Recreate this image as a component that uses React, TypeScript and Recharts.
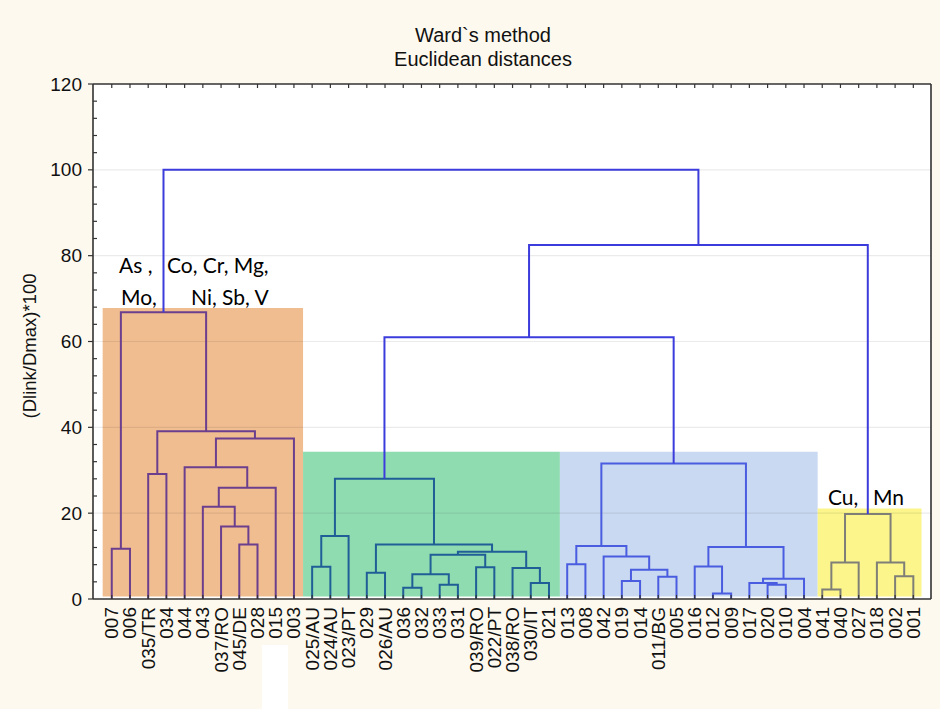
import React from "react";
import {
  ComposedChart,
  Line,
  XAxis,
  YAxis,
  CartesianGrid,
  ReferenceArea,
  ReferenceLine,
} from "recharts";

// ---- DATA ----
const leafLabels = [
  "007", "006", "035/TR", "034", "044", "043", "037/RO", "045/DE", "028", "015", "003",
  "025/AU", "024/AU", "023/PT", "029", "026/AU", "036", "032", "033", "031", "039/RO", "022/PT", "038/RO", "030/IT", "021",
  "013", "008", "042", "019", "014", "011/BG", "005", "016", "012", "009", "017", "020", "010", "004",
  "041", "040", "027", "018", "002", "001",
];

// [node id, left child, right child, linkage distance]
const orangeMerges: [string, string, string, number][] = [
  ["o1", "007", "006", 11.7],
  ["o2", "035/TR", "034", 29.1],
  ["o3", "045/DE", "028", 12.7],
  ["o4", "037/RO", "o3", 16.9],
  ["o5", "043", "o4", 21.5],
  ["o6", "o5", "015", 25.9],
  ["o7", "044", "o6", 30.7],
  ["o8", "o7", "003", 37.4],
  ["o9", "o2", "o8", 39.1],
  ["o10", "o1", "o9", 66.8],
];

const greenMerges: [string, string, string, number][] = [
  ["g1", "025/AU", "024/AU", 7.5],
  ["g2", "g1", "023/PT", 14.7],
  ["g3", "029", "026/AU", 6.1],
  ["g4", "036", "032", 2.6],
  ["g5", "033", "031", 3.3],
  ["g6", "g4", "g5", 5.75],
  ["g7", "039/RO", "022/PT", 7.4],
  ["g8", "g6", "g7", 10.3],
  ["g9", "030/IT", "021", 3.7],
  ["g10", "038/RO", "g9", 7.2],
  ["g11", "g8", "g10", 11.0],
  ["g12", "g3", "g11", 12.7],
  ["g13", "g2", "g12", 28.0],
];

const blueMerges: [string, string, string, number][] = [
  ["b1", "013", "008", 8.1],
  ["b2", "019", "014", 4.2],
  ["b3", "011/BG", "005", 5.2],
  ["b4", "b2", "b3", 6.8],
  ["b5", "042", "b4", 9.9],
  ["b6", "b1", "b5", 12.35],
  ["b7", "012", "009", 1.3],
  ["b8", "016", "b7", 7.6],
  ["b9", "020", "010", 3.3],
  ["b10", "017", "b9", 3.7],
  ["b11", "b10", "004", 4.7],
  ["b12", "b8", "b11", 12.1],
  ["b13", "b6", "b12", 31.6],
];

const yellowMerges: [string, string, string, number][] = [
  ["y1", "041", "040", 2.2],
  ["y2", "y1", "027", 8.5],
  ["y3", "002", "001", 5.3],
  ["y4", "018", "y3", 8.5],
  ["y5", "y2", "y4", 19.8],
];

const topMerges: [string, string, string, number][] = [
  ["t1", "g13", "b13", 61.0],
  ["t2", "t1", "y5", 82.5],
  ["t3", "o10", "t2", 100.0],
];

const yMajorTicks = [0, 20, 40, 60, 80, 100, 120];
const gridValues = [20, 40, 60, 80, 100];

// ---- STYLES ----
const lineColors: Record<string, string> = {
  o: "#6b3f8e",
  g: "#1f5e96",
  b: "#4a5ce0",
  y: "#7f7f78",
  t: "#3c3cdc",
};

const clusterBoxes = [
  { x1: -0.5, x2: 10.5, top: 67.8, fill: "#f0bd90" },
  { x1: 10.5, x2: 24.6, top: 34.3, fill: "#90dcb1" },
  { x1: 24.6, x2: 38.75, top: 34.3, fill: "#c9d9f1" },
  { x1: 38.75, x2: 44.45, top: 21.1, fill: "#fbf58c" },
];

const FONT = "'Liberation Sans', Arial, sans-serif";
const X_DOMAIN: [number, number] = [-1.03, 44.97];

// build node positions
type P = { x: number; h: number };
const pos: Record<string, P> = {};
leafLabels.forEach((l, i) => (pos[l] = { x: i, h: 0 }));
const allMerges = [...orangeMerges, ...greenMerges, ...blueMerges, ...yellowMerges, ...topMerges];
const segments = allMerges.map(([id, a, b, h]) => {
  const pa = pos[a];
  const pb = pos[b];
  pos[id] = { x: (pa.x + pb.x) / 2, h };
  return {
    id,
    color: lineColors[id[0]],
    data: [
      { x: pa.x, y: pa.h },
      { x: pa.x, y: h },
      { x: pb.x, y: h },
      { x: pb.x, y: pb.h },
    ],
  };
});

const leafTicks = leafLabels.map((_, i) => i);
const yMinorTicks = Array.from({ length: 31 }, (_, i) => i * 4);

const AX = "#333";

const LeftTick = (props: any) => {
  const { x, y, payload } = props;
  const ax = x + 11;
  const major = payload.value % 20 === 0;
  if (major) {
    return (
      <g>
        <line x1={ax - 5} x2={ax} y1={y} y2={y} stroke={AX} strokeWidth={1.2} />
        <text x={x} y={y} textAnchor="end" dominantBaseline="central" fontSize={19} fontFamily={FONT} fill="#111">
          {payload.value}
        </text>
      </g>
    );
  }
  return <line x1={ax} x2={ax + 4} y1={y} y2={y} stroke={AX} strokeWidth={1.2} />;
};

const RightTick = (props: any) => {
  const { x, y } = props;
  return <line x1={x - 4} x2={x} y1={y} y2={y} stroke={AX} strokeWidth={1.2} />;
};

const TopTick = (props: any) => {
  const { x, y } = props;
  return <line x1={x} x2={x} y1={y} y2={y + 4} stroke={AX} strokeWidth={1.2} />;
};

const BottomTick = (props: any) => {
  const { x, y, payload } = props;
  const ay = y - 8;
  return (
    <g>
      <line x1={x} x2={x} y1={ay} y2={ay - 4} stroke={AX} strokeWidth={1.2} />
      <text
        x={x}
        y={y}
        transform={`rotate(-90, ${x}, ${y})`}
        textAnchor="end"
        dominantBaseline="central"
        fontSize={19}
        fontFamily={FONT}
        fill="#111"
      >
        {leafLabels[payload.value]}
      </text>
    </g>
  );
};

export default function App() {
  return (
    <div
      style={{
        position: "absolute",
        left: 0,
        top: 0,
        width: 940,
        height: 709,
        background: "#fdf9ef",
        overflow: "hidden",
      }}
    >
      <ComposedChart width={940} height={709} margin={{ top: 54, right: 0, bottom: 0, left: 0 }}>
        <CartesianGrid horizontal={false} vertical={false} fill="#ffffff" xAxisId="b" yAxisId="l" />
        <XAxis
          xAxisId="b"
          type="number"
          dataKey="x"
          domain={X_DOMAIN}
          allowDataOverflow
          ticks={leafTicks}
          interval={0}
          height={110}
          tickSize={0}
          tickMargin={8}
          tickLine={false}
          axisLine={{ stroke: AX, strokeWidth: 1.6 }}
          tick={<BottomTick />}
        />
        <XAxis
          xAxisId="t"
          orientation="top"
          type="number"
          dataKey="x"
          domain={X_DOMAIN}
          allowDataOverflow
          ticks={leafTicks}
          interval={0}
          height={30}
          tickSize={0}
          tickMargin={0}
          tickLine={false}
          axisLine={{ stroke: AX, strokeWidth: 1.6 }}
          tick={<TopTick />}
        />
        <YAxis
          yAxisId="l"
          type="number"
          domain={[0, 120]}
          ticks={yMinorTicks}
          interval={0}
          width={93}
          tickSize={0}
          tickMargin={11}
          tickLine={false}
          axisLine={{ stroke: AX, strokeWidth: 1.6 }}
          tick={<LeftTick />}
        />
        <YAxis
          yAxisId="r"
          orientation="right"
          type="number"
          domain={[0, 120]}
          ticks={yMinorTicks}
          interval={0}
          width={9}
          tickSize={0}
          tickMargin={0}
          tickLine={false}
          axisLine={{ stroke: AX, strokeWidth: 1.6 }}
          tick={<RightTick />}
        />
        {clusterBoxes.map((c, i) => (
          <ReferenceArea
            key={`box${i}`}
            xAxisId="b"
            yAxisId="l"
            x1={c.x1}
            x2={c.x2}
            y1={0.6}
            y2={c.top}
            fill={c.fill}
            fillOpacity={1}
            stroke="none"
          />
        ))}
        {gridValues.map((v) => (
          <ReferenceLine key={`g${v}`} xAxisId="b" yAxisId="l" y={v} stroke="#000" strokeOpacity={0.08} strokeWidth={1.2} />
        ))}
        {segments.map((s) => (
          <Line
            key={s.id}
            xAxisId="b"
            yAxisId="l"
            data={s.data}
            dataKey="y"
            type="linear"
            stroke={s.color}
            strokeWidth={2}
            dot={false}
            activeDot={false}
            isAnimationActive={false}
            legendType="none"
          />
        ))}
      </ComposedChart>
      <svg
        width={940}
        height={709}
        style={{ position: "absolute", left: 0, top: 0, pointerEvents: "none" }}
      >
        <text x={483} y={42} textAnchor="middle" fontSize={20} fontFamily={FONT} fill="#111">
          Ward`s method
        </text>
        <text x={483} y={66} textAnchor="middle" fontSize={20} fontFamily={FONT} fill="#111">
          Euclidean distances
        </text>
        <text
          x={29}
          y={346}
          transform="rotate(-90, 29, 346)"
          textAnchor="middle"
          dominantBaseline="central"
          fontSize={18.5}
          fontFamily={FONT}
          fill="#111"
        >
          (Dlink/Dmax)*100
        </text>
        <g fontFamily="Lato, 'Noto Sans', sans-serif" fontSize={21} fill="#000">
          <text x={119} y={273}>As ,</text>
          <text x={167} y={273}>Co, Cr, Mg,</text>
          <text x={121} y={305}>Mo,</text>
          <text x={191} y={305}>Ni, Sb, V</text>
          <text x={828} y={505}>Cu,</text>
          <text x={873} y={505}>Mn</text>
        </g>
      </svg>
      <div
        style={{ position: "absolute", left: 262, top: 645, width: 26, height: 64, background: "#ffffff" }}
      />
    </div>
  );
}
